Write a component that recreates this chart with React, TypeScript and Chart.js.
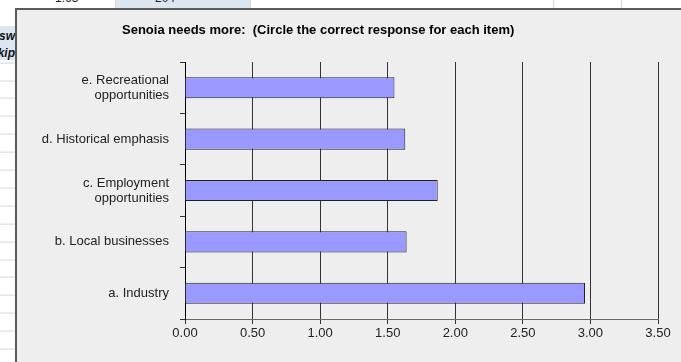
import React, { useEffect, useRef } from "react";
import { Chart, registerables } from "chart.js";

Chart.register(...registerables);

const categories: (string | string[])[] = [
  ["e. Recreational", "opportunities"],
  "d. Historical emphasis",
  ["c. Employment", "opportunities"],
  "b. Local businesses",
  "a. Industry",
];
const values = [1.55, 1.63, 1.87, 1.64, 2.96];
const xMin = 0;
const xMax = 3.5;
const xStep = 0.5;
const titleText = "Senoia needs more:  (Circle the correct response for each item)";
const topCells = ["1.65", "204"];
const leftCells = ["sw", "kip"];

const FONT = "Arial, 'Liberation Sans', sans-serif";

const titlePlugin = {
  id: "excelTitle",
  afterDraw(chart: any) {
    const ctx = chart.ctx;
    ctx.save();
    ctx.font = `bold 13px ${FONT}`;
    ctx.fillStyle = "#000";
    ctx.textAlign = "left";
    ctx.textBaseline = "middle";
    ctx.fillText(titleText, 122, 30);
    ctx.restore();
  },
};

export default function App() {
  const ref = useRef<HTMLCanvasElement | null>(null);

  useEffect(() => {
    if (!ref.current) return;
    const chart = new Chart(ref.current, {
      type: "bar",
      data: {
        labels: categories,
        datasets: [
          {
            data: values,
            backgroundColor: "#9999ff",
            borderColor: "#222222",
            borderWidth: 1,
            barPercentage: 0.41,
            categoryPercentage: 1,
          },
        ],
      },
      plugins: [titlePlugin],
      options: {
        indexAxis: "y",
        responsive: false,
        animation: false,
        layout: { padding: { left: 0, right: 23, top: 62, bottom: 0 } },
        plugins: {
          legend: { display: false },
          tooltip: { enabled: false },
          title: { display: false },
        },
        scales: {
          x: {
            min: xMin,
            max: xMax,
            ticks: {
              stepSize: xStep,
              callback: (v: any) => Number(v).toFixed(2),
              color: "#222",
              font: { family: FONT, size: 13 },
              padding: 2,
              maxRotation: 0,
            },
            grid: { color: "#333", lineWidth: 1, tickLength: 5, drawTicks: true },
            border: { color: "#666", width: 1 },
            afterFit: (s: any) => {
              s.height = 43;
            },
          },
          y: {
            ticks: {
              color: "#222",
              font: { family: FONT, size: 13, lineHeight: 1.15 },
              padding: 11,
              crossAlign: "near",
            },
            grid: { drawOnChartArea: false, tickLength: 5, color: "#333" },
            border: { color: "#000", width: 1 },
            afterFit: (s: any) => {
              s.width = 185;
            },
          },
        },
      },
    } as any);
    return () => chart.destroy();
  }, []);

  const sepColor = "#d0d7e5";

  return (
    <div
      style={{
        position: "fixed",
        left: 0,
        top: 0,
        width: 681,
        height: 362,
        overflow: "hidden",
        background: "#fff",
        fontFamily: FONT,
      }}
    >
      {/* top strip of spreadsheet */}
      <div style={{ position: "absolute", left: 0, top: 0, width: 681, height: 8, overflow: "hidden" }}>
        <div style={{ position: "absolute", left: 115, top: 0, width: 135, height: 8, background: "#dce6f1" }} />
        {[115, 250, 553, 621].map((x) => (
          <div key={x} style={{ position: "absolute", left: x, top: 0, width: 1, height: 8, background: sepColor }} />
        ))}
        <div style={{ position: "absolute", left: 55, top: -9, fontSize: 12, color: "#222", lineHeight: "14px" }}>
          {topCells[0]}
        </div>
        <div style={{ position: "absolute", left: 155, top: -9, fontSize: 12, color: "#222", lineHeight: "14px" }}>
          {topCells[1]}
        </div>
      </div>
      {/* left strip of spreadsheet */}
      <div
        style={{
          position: "absolute",
          left: 0,
          top: 8,
          width: 15,
          height: 354,
          overflow: "hidden",
          backgroundImage: `repeating-linear-gradient(to bottom, transparent 0px, transparent 16.9px, ${sepColor} 16.9px, ${sepColor} 17.9px)`,
          backgroundPosition: "0 1.6px",
        }}
      >
        <div style={{ position: "absolute", left: 0, top: 18, width: 15, height: 34, background: "#dce6f1" }} />
        <div
          style={{
            position: "absolute",
            right: 0,
            top: 20,
            fontSize: 12,
            fontWeight: "bold",
            fontStyle: "italic",
            color: "#111",
            lineHeight: "17px",
            textAlign: "right",
            whiteSpace: "nowrap",
          }}
        >
          {leftCells[0]}
          <br />
          {leftCells[1]}
        </div>
      </div>
      {/* chart frame */}
      <div
        style={{
          position: "absolute",
          left: 15,
          top: 8,
          width: 681,
          height: 362,
          background: "#eeeeee",
          borderLeft: "2px solid #5a5a5a",
          borderTop: "2px solid #5a5a5a",
        }}
      />
      <canvas
        ref={ref}
        width={681}
        height={362}
        style={{ position: "absolute", left: 0, top: 0, width: 681, height: 362 }}
      />
    </div>
  );
}
